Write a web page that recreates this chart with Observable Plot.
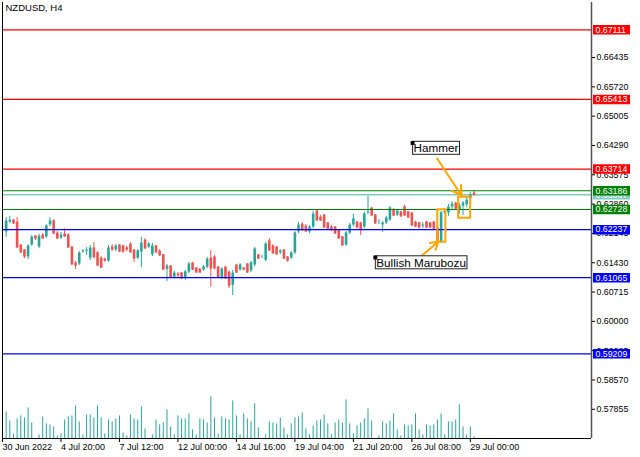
<!DOCTYPE html>
<html><head><meta charset="utf-8">
<script src="https://cdn.jsdelivr.net/npm/d3@7"></script>
<script src="https://cdn.jsdelivr.net/npm/@observablehq/plot@0.6"></script>
<style>
body{margin:0;background:#fff;}
#wrap{position:relative;width:640px;height:457px;overflow:hidden;}
#wrap svg{position:absolute;left:0;top:0;}
</style>
</head><body><div id="wrap"></div>
<script>
const title = "NZDUSD, H4";
const firstBar = 1;
const open = [
.6217,.6241,.6246,.6241,.6185,.6173,.6156,.6185,.6207,.6180,
.6209,.6205,.6234,.6244,.6214,.6202,.6212,.6209,.6180,.6141,
.6139,.6168,.6170,.6153,.6178,.6166,.6153,.6151,.6146,.6180,
.6173,.6185,.6183,.6178,.6187,.6173,.6153,.6168,.6197,.6180,
.6161,.6183,.6170,.6161,.6126,.6134,.6107,.6114,.6117,.6105,
.6119,.6141,.6129,.6126,.6124,.6131,.6153,.6156,.6131,.6105,
.6131,.6119,.6087,.6136,.6124,.6129,.6139,.6122,.6136,.6161,
.6156,.6148,.6195,.6183,.6180,.6166,.6173,.6156,.6153,.6166,
.6217,.6236,.6231,.6217,.6229,.6268,.6253,.6258,.6239,.6229,
.6229,.6222,.6205,.6185,.6214,.6234,.6241,.6239,.6229,.6263,
.6275,.6258,.6241,.6234,.6239,.6246,.6270,.6258,.6266,.6278,
.6266,.6263,.6241,.6239,.6231,.6241,.6239,.6241,.6226,.6192,
.6263,.6263,.6278,.6287,.6270,.6280,.6283,.6297,.6312];
const high = [
.6253,.6256,.6248,.6253,.6187,.6175,.6187,.6209,.6209,.6212,
.6214,.6236,.6253,.6248,.6219,.6217,.6226,.6214,.6183,.6146,
.6170,.6175,.6180,.6185,.6192,.6170,.6158,.6153,.6185,.6187,
.6187,.6187,.6185,.6183,.6192,.6175,.6175,.6205,.6202,.6192,
.6190,.6185,.6175,.6163,.6139,.6136,.6122,.6119,.6119,.6124,
.6144,.6144,.6131,.6129,.6136,.6156,.6173,.6161,.6134,.6131,
.6134,.6122,.6124,.6139,.6141,.6131,.6141,.6146,.6180,.6163,
.6161,.6192,.6202,.6187,.6183,.6175,.6175,.6158,.6170,.6219,
.6241,.6241,.6236,.6234,.6268,.6273,.6258,.6261,.6241,.6234,
.6231,.6224,.6207,.6219,.6239,.6261,.6244,.6241,.6266,.6305,
.6278,.6261,.6248,.6244,.6256,.6280,.6275,.6273,.6268,.6283,
.6268,.6266,.6244,.6241,.6241,.6244,.6241,.6244,.6229,.6268,
.6275,.6285,.6292,.6290,.6287,.6292,.6302,.6314,.6319];
const low = [
.6205,.6239,.6236,.6178,.6166,.6153,.6151,.6183,.6197,.6178,
.6200,.6202,.6231,.6212,.6200,.6200,.6205,.6178,.6136,.6126,
.6136,.6166,.6161,.6148,.6153,.6134,.6129,.6144,.6144,.6170,
.6170,.6168,.6166,.6170,.6166,.6144,.6151,.6131,.6175,.6178,
.6158,.6166,.6158,.6124,.6097,.6105,.6105,.6107,.6102,.6100,
.6117,.6124,.6117,.6117,.6122,.6129,.6083,.6126,.6105,.6102,
.6102,.6080,.6063,.6117,.6122,.6124,.6117,.6119,.6134,.6151,
.6153,.6146,.6170,.6163,.6161,.6163,.6151,.6144,.6151,.6163,
.6214,.6219,.6217,.6214,.6226,.6244,.6244,.6226,.6224,.6219,
.6212,.6200,.6183,.6183,.6212,.6231,.6226,.6209,.6226,.6261,
.6256,.6236,.6236,.6217,.6236,.6244,.6256,.6256,.6253,.6256,
.6251,.6231,.6229,.6226,.6226,.6226,.6226,.6224,.6195,.6190,
.6261,.6256,.6273,.6273,.6261,.6258,.6278,.6295,.6305];
const close = [
.6246,.6248,.6239,.6180,.6168,.6158,.6185,.6207,.6202,.6209,
.6202,.6234,.6246,.6214,.6202,.6212,.6207,.6180,.6139,.6136,
.6168,.6173,.6175,.6180,.6156,.6136,.6131,.6148,.6180,.6175,
.6185,.6170,.6170,.6175,.6168,.6153,.6173,.6192,.6178,.6190,
.6185,.6168,.6161,.6126,.6136,.6107,.6119,.6112,.6105,.6122,
.6141,.6126,.6119,.6119,.6134,.6153,.6129,.6129,.6107,.6129,
.6105,.6087,.6119,.6119,.6139,.6126,.6119,.6144,.6178,.6153,
.6158,.6190,.6173,.6166,.6163,.6173,.6153,.6148,.6168,.6217,
.6236,.6222,.6219,.6231,.6263,.6246,.6246,.6229,.6226,.6222,
.6214,.6202,.6185,.6217,.6236,.6251,.6229,.6222,.6263,.6268,
.6258,.6239,.6244,.6241,.6253,.6278,.6258,.6270,.6256,.6258,
.6253,.6234,.6231,.6229,.6236,.6229,.6229,.6226,.6197,.6266,
.6270,.6280,.6287,.6275,.6283,.6290,.6297,.6309,.63087];
const volume = [
6100,4030,1040,4490,5180,4720,7020,3570,0,810,
4950,3340,3110,2650,580,1040,4260,4950,5180,7480,
3800,810,5410,5410,4720,7480,4720,1040,4260,3800,
4490,5180,1270,580,5410,4490,4260,7250,2190,0,
810,4260,3110,3570,6560,2650,810,5180,4490,4490,
5640,1960,810,4490,4260,3570,9550,4720,1040,4950,
4490,4260,8630,5180,810,5640,4490,3800,7940,2420,
0,810,3800,3570,3340,4720,2420,810,3340,4720,
4950,5870,2190,810,2880,4030,4260,5410,3340,810,
3570,4260,3570,8860,3340,1040,2880,3570,4490,6790,
4030,0,580,3800,3340,4030,5640,1960,580,3110,
2880,3110,5640,1960,810,3110,2880,3110,4260,5640,
810,3800,3800,4260,7710,2650,810,2650,350];

const tickBars = [0,16,32,48,64,80,96,112,128];
const timeLabels = ["30 Jun 2022","4 Jul 20:00","7 Jul 12:00","12 Jul 00:00","14 Jul 16:00","19 Jul 04:00","21 Jul 20:00","26 Jul 08:00","29 Jul 00:00"];
const priceTicks = [0.57855,0.58570,0.59285,0.60000,0.60715,0.61430,0.62145,0.62860,0.63575,0.64290,0.65005,0.65720,0.66435];

const levelPrices = [0.67111,0.65413,0.63714,0.63186,0.62728,0.62237,0.61065,0.59209];
const levelKinds  = ["resistance","resistance","resistance","pivot","pivot","support","support","support"];

const noteTexts  = ["Hammer","Bullish Marubozu"];
const noteBars   = [112.2, 102.0];
const notePrices = [0.64350, 0.61558];

const arrowFromBar = [118.9, 113.8];
const arrowFromPrice = [0.63972, 0.61533];
const arrowToBar = [125.6, 119.3];
const arrowToPrice = [0.63070, 0.61948];

const boxBar1 = [124.8, 119.1];
const boxBar2 = [128.1, 121.3];
const boxHigh = [0.63029, 0.62721];
const boxLow  = [0.62516, 0.61931];

// ---- build tables ----
const bars = close.map((c, k) => ({i: k + firstBar, o: open[k], h: high[k], l: low[k], c, v: volume[k]}));
const levels = levelPrices.map((p, k) => ({price: p, kind: levelKinds[k]}));
const notes = noteTexts.map((t, k) => ({text: t, bar: noteBars[k], price: notePrices[k]}));
const arrows = arrowFromBar.map((b, k) => ({x1: b, y1: arrowFromPrice[k], x2: arrowToBar[k], y2: arrowToPrice[k]}));
const boxes = boxBar1.map((b, k) => ({x1: b, x2: boxBar2[k], y1: boxLow[k], y2: boxHigh[k]}));
const current = close[close.length - 1];

const levelColor = {resistance: "#ff0000", pivot: "#008000", support: "#0000ff"};
const bull = "#26a69a", bear = "#ef5350", orange = "#ffa500";
const W = 640, H = 457, mL = 2, mR = 49, mT = 2, mB = 19;
const xDomain = [0, 161.15];
const yDomain = [0.57143, 0.67777];
const font = "'Liberation Sans', Arial, sans-serif";
const col = d => d.c >= d.o ? bull : bear;

const volPlot = Plot.plot({
  width: W, height: H, marginLeft: mL, marginRight: mR, marginTop: mT, marginBottom: mB,
  style: {background: "transparent"},
  x: {type: "linear", domain: xDomain, axis: null},
  y: {domain: [0, 100000], axis: null},
  marks: [
    Plot.ruleX(bars, {x: "i", y1: 0, y2: "v", stroke: bull, strokeWidth: 1})
  ]
});

const main = Plot.plot({
  width: W, height: H, marginLeft: mL, marginRight: mR, marginTop: mT, marginBottom: mB,
  style: {background: "transparent", fontFamily: font, color: "#000"},
  x: {type: "linear", domain: xDomain, axis: null},
  y: {type: "linear", domain: yDomain, axis: null},
  marks: [
    Plot.ruleY([current], {stroke: "#80cbc4", strokeWidth: 1.6}),
    Plot.ruleX(bars, {x: "i", y1: "l", y2: "h", stroke: col, strokeWidth: 1}),
    Plot.ruleX(bars, {x: "i", y1: "o", y2: "c", stroke: col, strokeWidth: 2.6, insetTop: -0.5, insetBottom: -0.5}),
    Plot.ruleY(levels, {y: "price", stroke: d => levelColor[d.kind], strokeWidth: 1.2}),
    Plot.ruleX([xDomain[0]], {stroke: "#000", strokeWidth: 1}),
    Plot.ruleX([xDomain[1]], {stroke: "#555", strokeWidth: 1.5}),
    Plot.ruleY([yDomain[0]], {stroke: "#000", strokeWidth: 1}),
    Plot.axisY({anchor: "right", ticks: priceTicks, tickFormat: d => d.toFixed(5), tickSize: 3, tickPadding: 2, fontSize: 8.8}),
    Plot.axisX({anchor: "bottom", ticks: tickBars, tickFormat: i => timeLabels[tickBars.indexOf(i)], tickSize: 4, tickPadding: 1, textAnchor: "start", dx: 0, fontSize: 9}),
    // current price label (behind the others)
    Plot.ruleY([current], {x1: xDomain[1], x2: xDomain[1], insetLeft: 2, insetRight: -39, strokeWidth: 9.5, stroke: "#80cbc4"}),
    Plot.text([current], {y: d => d, x: xDomain[1], dx: 4, text: d => d.toFixed(5), fill: "#fff", textAnchor: "start", fontSize: 8.8}),
    Plot.ruleY(levels, {y: "price", x1: xDomain[1], x2: xDomain[1], insetLeft: 2, insetRight: -39, strokeWidth: 9.5, stroke: d => levelColor[d.kind]}),
    Plot.text(levels, {y: "price", x: xDomain[1], dx: 4, text: d => d.price.toFixed(5), fill: "#fff", textAnchor: "start", fontSize: 8.8}),
    // pattern boxes and arrows
    Plot.rect(boxes, {x1: "x1", x2: "x2", y1: "y1", y2: "y2", fill: "none", stroke: orange, strokeWidth: 2}),
    Plot.arrow(arrows, {x1: "x1", y1: "y1", x2: "x2", y2: "y2", stroke: orange, strokeWidth: 2, headLength: 8}),
    Plot.text(notes, {x: "bar", y: "price", text: "text", textAnchor: "start", lineAnchor: "top", dx: 1, dy: 1, fontSize: 11.7, fill: "#000"}),
    Plot.dot(notes, {x: "bar", y: "price", symbol: "square", r: 2.2, fill: "#000"}),
    Plot.text([title], {frameAnchor: "top-left", dx: 3, dy: 2, textAnchor: "start", lineAnchor: "top", fontSize: 9.5, fill: "#000"})
  ]
});

const wrap = document.getElementById("wrap");
wrap.append(volPlot, main);

// white boxes behind annotation labels
const ns = "http://www.w3.org/2000/svg";
main.querySelectorAll("text").forEach(t => {
  if (noteTexts.includes(t.textContent)) {
    const b = t.getBBox();
    const r = document.createElementNS(ns, "rect");
    r.setAttribute("x", b.x - 1);
    r.setAttribute("y", b.y);
    r.setAttribute("width", b.width + 2);
    r.setAttribute("height", b.height);
    r.setAttribute("fill", "#fff");
    r.setAttribute("stroke", "#222");
    r.setAttribute("stroke-width", "1");
    const tr = t.getAttribute("transform");
    if (tr) r.setAttribute("transform", tr);
    t.parentNode.insertBefore(r, t);
  }
});
</script>
</body></html>
